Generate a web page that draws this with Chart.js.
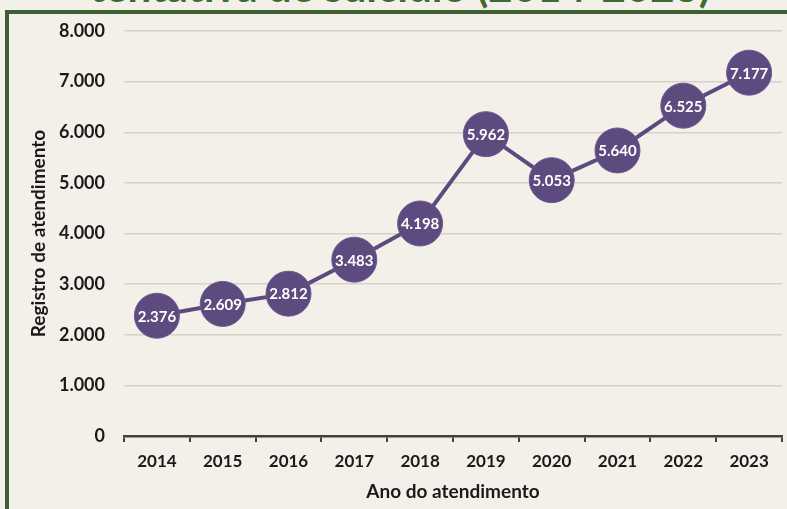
<!DOCTYPE html>
<html>
<head>
<meta charset="utf-8">
<script src="https://cdn.jsdelivr.net/npm/chart.js@4/dist/chart.umd.min.js"></script>
<style>
  html, body { margin: 0; padding: 0; background: #f3f0ea; width: 787px; height: 509px; overflow: hidden; }
  #frame { position: absolute; left: 5px; top: 10px; width: 900px; height: 600px;
           border-left: 4px solid #3d5f32; border-top: 4px solid #3d5f32; box-sizing: border-box; }
  #title { position: absolute; left: 0; top: -35px; width: 800px; text-align: center;
           font: bold 42px/42px Lato, "Open Sans", sans-serif; color: #3e6a35; white-space: nowrap; }
  #wrap { position: absolute; left: 0; top: 0; width: 787px; height: 509px; }
</style>
</head>
<body>
<div id="title">tentativa de suicídio (2014-2023)</div>
<div id="frame"></div>
<div id="wrap"><canvas id="c" width="787" height="509"></canvas></div>
<script>
const years = ['2014','2015','2016','2017','2018','2019','2020','2021','2022','2023'];
const registros = [2376, 2609, 2812, 3483, 4198, 5962, 5053, 5640, 6525, 7177];
const yTicks = [0, 1000, 2000, 3000, 4000, 5000, 6000, 7000, 8000];
const yTitle = 'Registro de atendimento';
const xTitle = 'Ano do atendimento';

const PURPLE = '#5d4a7e';
const FONT = 'Lato, "Open Sans", sans-serif';

function fmt(v) {
  return String(v).replace(/\B(?=(\d{3})+(?!\d))/g, '.');
}

const labelPlugin = {
  id: 'pointLabels',
  afterDatasetsDraw(chart) {
    const ctx = chart.ctx;
    const meta = chart.getDatasetMeta(0);
    ctx.save();
    ctx.fillStyle = '#ffffff';
    ctx.font = 'bold 15px ' + FONT;
    ctx.textAlign = 'center';
    ctx.textBaseline = 'middle';
    meta.data.forEach((pt, i) => {
      ctx.fillText(fmt(chart.data.datasets[0].data[i]), pt.x, pt.y + 1);
    });
    ctx.restore();
  }
};

new Chart(document.getElementById('c'), {
  type: 'line',
  data: {
    labels: years,
    datasets: [{
      data: registros,
      borderColor: PURPLE,
      borderWidth: 4,
      backgroundColor: PURPLE,
      pointBackgroundColor: PURPLE,
      pointBorderColor: '#6a5890',
      pointBorderWidth: 1,
      pointRadius: 22.5,
      pointHoverRadius: 22.5,
      tension: 0,
      clip: false
    }]
  },
  options: {
    responsive: false,
    animation: false,
    events: [],
    layout: { autoPadding: false, padding: { top: 31, right: 5, bottom: 0, left: 0 } },
    plugins: { legend: { display: false }, tooltip: { enabled: false }, title: { display: false } },
    scales: {
      x: {
        type: 'category',
        offset: true,
        afterFit(s) { s.height = 73; },
        grid: { offset: true, drawOnChartArea: false, drawTicks: true, tickLength: 6, color: '#404040', lineWidth: 2 },
        border: { display: true, color: '#404040', width: 2.5 },
        ticks: { color: '#1a1a1a', font: { family: FONT, size: 17, weight: 'bold' }, padding: 9, maxRotation: 0 },
        title: { display: true, text: xTitle, color: '#1a1a1a', font: { family: FONT, size: 19, weight: 'bold' }, padding: { top: 0, bottom: 5.5 } }
      },
      y: {
        min: 0, max: 8000,
        afterFit(s) { s.width = 124; },
        afterBuildTicks(s) { s.ticks = yTicks.map(v => ({ value: v })); },
        grid: { drawTicks: false, color: '#d6d2cb', lineWidth: 1.5 },
        border: { display: false },
        ticks: { color: '#1a1a1a', font: { family: FONT, size: 18, weight: 'bold' }, padding: 19, callback: v => fmt(v) },
        title: { display: true, text: yTitle, color: '#1a1a1a', font: { family: FONT, size: 19, weight: 'bold' }, padding: { top: 27.5, bottom: 0 } }
      }
    }
  },
  plugins: [labelPlugin]
});
</script>
</body>
</html>
